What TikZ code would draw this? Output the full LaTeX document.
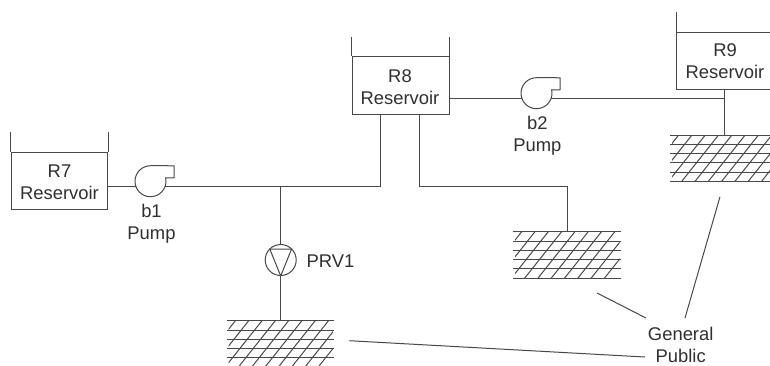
\documentclass[tikz,border=0pt]{standalone}
\usepackage{fontspec}
\setmainfont{Liberation Sans}
\definecolor{ln}{HTML}{484848}
\definecolor{tx}{HTML}{303030}
\tikzset{
  pipe/.style={draw=ln,line width=0.75pt},
  tank/.style={draw=ln,line width=0.75pt,rectangle,inner sep=0pt,anchor=north west},
  pumpc/.style={circle,inner sep=0pt,minimum size=23.25pt},
  prvc/.style={draw=ln,line width=0.75pt,circle,inner sep=0pt,minimum size=23.25pt},
  lab/.style={text=tx,align=center,inner sep=0pt,font=\fontsize{13.8}{16.5}\selectfont},
  hatchbox/.style={inner sep=0pt,rectangle,anchor=north west},
}
% name, left, top, right
\newcommand{\hatchblock}[4]{%
  \node[hatchbox,minimum width=(#4-#2)*0.75pt,minimum height=46.5*0.75pt] (#1) at (#2,#3) {};
  \begin{scope}
    \clip (#2+2,#3) rectangle (#4-1,#3+46.5);
    \foreach \k in {0,...,9}{
      \draw[pipe,line width=0.75pt] (#2+8.7+13.3*\k,#3) -- ++(-37,46.5);
    }
  \end{scope}
  \foreach \r in {0,9.3,18.6,27.9,37.2,46.5}{
    \draw[pipe] (#2,#3+\r) -- (#4,#3+\r);
  }
}
\begin{document}
\begin{tikzpicture}[x=0.75pt,y=-0.75pt]
\useasboundingbox (0,0) rectangle (770,365);
% reservoirs
\node[tank,minimum width=96.5*0.75pt,minimum height=57.5*0.75pt] (r7) at (10.5,151.5) {};
\node[tank,minimum width=97*0.75pt,minimum height=58*0.75pt] (r8) at (351.7,56) {};
\node[tank,minimum width=130*0.75pt,minimum height=57*0.75pt] (r9) at (676,32) {};
\draw[pipe] (r7.north west) -- ++(0,-19.5);
\draw[pipe] (r7.north east) -- ++(0,-19.5);
\draw[pipe] (r8.north west) -- ++(0,-19);
\draw[pipe] (r8.north east) -- ++(0,-19);
\draw[pipe] (r9.north west) -- ++(0,-20);
\node[lab] (r7t) at (59.5,182) {R7\\Reservoir};
\node[lab] (r8t) at (400,87) {R8\\Reservoir};
\node[lab] (r9t) at (725,61.5) {R9\\Reservoir};
% pumps: open volute, the arc stops at the outlet
\node[pumpc] (b1) at (150.5,181.5) {};
\node[pumpc] (b2) at (536.5,93.5) {};
\draw[pipe,line join=round] (b1.north) arc[radius=11.625pt,start angle=90,end angle=373] -- ++(8.4,0) -- ++(0,-12) -- (b1.north);
\draw[pipe,line join=round] (b2.north) arc[radius=11.625pt,start angle=90,end angle=373] -- ++(8.4,0) -- ++(0,-12) -- (b2.north);
\node[lab] (b1t) at (151.5,223.3) {b1\\Pump};
\node[lab] (b2t) at (537.3,135.5) {b2\\Pump};
% PRV
\node[prvc] (prv) at (280.7,260) {};
\draw[pipe,line join=round] (269.8,249) -- (291.6,249) -- (prv.south) -- cycle;
\node[lab] (prvt) at (330.5,261) {PRV1};
% demand areas
\hatchblock{ha}{226.7}{320.7}{334}
\hatchblock{hb}{513}{231.7}{620.7}
\hatchblock{hc}{670}{135}{775}
% junctions
\coordinate (b1w) at (135.7,186);
\coordinate (b1e) at (165.3,186);
\coordinate (b2w) at (521.7,98);
\coordinate (b2e) at (551.3,98);
\coordinate (j1) at (380.7,186);
\coordinate (j2) at (280.7,186);
\coordinate (j3) at (419,186);
\coordinate (j4) at (567,186);
\coordinate (j5) at (724,98);
\coordinate (j6) at (724,135);
% pipes
\draw[pipe] (r7.east |- b1w) -- (b1w);
\draw[pipe] (b1e) -- (j1) -- (j1 |- r8.south);
\draw[pipe] (j2) -- (prv.north);
\draw[pipe] (prv.south) -- (prv.south |- ha.north);
\draw[pipe] (j3 |- r8.south) -- (j3) -- (j4) -- (j4 |- hb.north);
\draw[pipe] (r8.east |- b2w) -- (b2w);
\draw[pipe] (b2e) -- (j5);
\draw[pipe] (j5 |- r9.south) -- (j6);
% label and leaders
\node[lab] (gp) at (680.7,345) {General\\Public};
\coordinate (la) at (349.3,340.7);
\coordinate (lae) at (645,357);
\coordinate (lb) at (597,293);
\coordinate (lbe) at (646,318);
\coordinate (lc) at (720,196.7);
\coordinate (lce) at (685,318);
\draw[pipe] (la) -- (lae);
\draw[pipe] (lb) -- (lbe);
\draw[pipe] (lc) -- (lce);
\end{tikzpicture}
\end{document}
